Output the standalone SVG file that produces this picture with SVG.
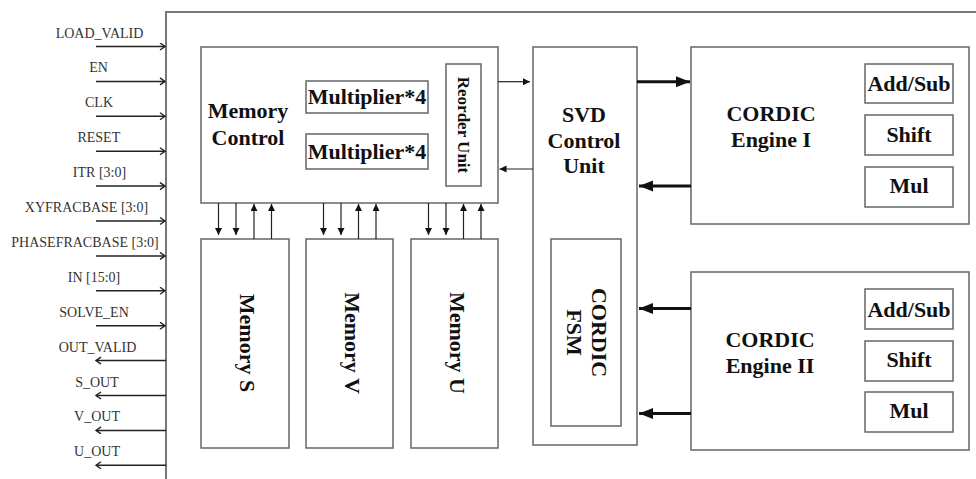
<svg xmlns="http://www.w3.org/2000/svg" width="976" height="479" viewBox="0 0 976 479">
<defs>
<style>
.box{fill:#fff;stroke:#666;stroke-width:1.5}
.io{stroke:#222;stroke-width:1.5;fill:none}
.thin{stroke:#222;stroke-width:1.2;fill:none}
.thick{stroke:#111;stroke-width:3;fill:none}
.lbl{font-family:"Liberation Serif","Times New Roman",serif;font-size:14px;fill:#333;text-anchor:middle}
.b{font-family:"Liberation Serif","Times New Roman",serif;font-size:22px;font-weight:bold;fill:#111;text-anchor:middle}
.b17{font-family:"Liberation Serif","Times New Roman",serif;font-size:17px;font-weight:bold;fill:#111;text-anchor:middle}
</style>
<marker id="open" markerUnits="userSpaceOnUse" markerWidth="10" markerHeight="10" refX="6" refY="4" orient="auto">
<path d="M1,0.5 L6,4 L1,7.5" fill="none" stroke="#222" stroke-width="1.4"/>
</marker>
<marker id="tri" markerUnits="userSpaceOnUse" markerWidth="10" markerHeight="8" refX="7" refY="3.5" orient="auto">
<path d="M0,0 L7,3.5 L0,7 Z" fill="#111"/>
</marker>
<marker id="big" markerUnits="userSpaceOnUse" markerWidth="16" markerHeight="12" refX="14" refY="5.5" orient="auto">
<path d="M0,0 L14,5.5 L0,11 Z" fill="#111"/>
</marker>
</defs>
<rect width="976" height="479" fill="#fff"/>

<g id="frame">
<path d="M166,479 V12 H976" fill="none" stroke="#777" stroke-width="2"/>
</g>

<g id="io-labels">
<text class="lbl" x="99.5" y="37.5">LOAD_VALID</text>
<text class="lbl" x="98.5" y="72.4">EN</text>
<text class="lbl" x="99" y="107.3">CLK</text>
<text class="lbl" x="98.8" y="142.2">RESET</text>
<text class="lbl" x="99.5" y="177.1">ITR [3:0]</text>
<text class="lbl" x="86.5" y="212">XYFRACBASE [3:0]</text>
<text class="lbl" x="85" y="246.9">PHASEFRACBASE [3:0]</text>
<text class="lbl" x="94" y="281.8">IN [15:0]</text>
<text class="lbl" x="94" y="316.7">SOLVE_EN</text>
<text class="lbl" x="97.5" y="351.6">OUT_VALID</text>
<text class="lbl" x="97" y="386.5">S_OUT</text>
<text class="lbl" x="97" y="421.4">V_OUT</text>
<text class="lbl" x="97" y="456.3">U_OUT</text>
</g>

<g id="memory-control">
<rect class="box" x="201" y="47" width="297" height="156"/>
<text class="b" x="248" y="118">Memory</text>
<text class="b" x="248" y="145">Control</text>
</g>
<g id="multiplier-1">
<rect class="box" x="306" y="81" width="122" height="32"/>
<text class="b" x="367" y="104">Multiplier*4</text>
</g>
<g id="multiplier-2">
<rect class="box" x="306" y="134" width="122" height="35"/>
<text class="b" x="367" y="159">Multiplier*4</text>
</g>
<g id="reorder-unit">
<rect class="box" x="446" y="64" width="35" height="122"/>
<text class="b17" transform="translate(463.5,125) rotate(90)" y="6">Reorder Unit</text>
</g>

<g id="memory-s">
<rect class="box" x="201" y="239" width="88" height="209"/>
<text class="b" transform="translate(247,343) rotate(90)" y="7">Memory S</text>
</g>
<g id="memory-v">
<rect class="box" x="306" y="239" width="87" height="209"/>
<text class="b" transform="translate(351.5,343) rotate(90)" y="7">Memory V</text>
</g>
<g id="memory-u">
<rect class="box" x="411" y="239" width="87" height="209"/>
<text class="b" transform="translate(456.5,343) rotate(90)" y="7">Memory U</text>
</g>

<g id="svd-control-unit">
<rect class="box" x="533" y="47" width="104" height="398"/>
<text class="b" x="584" y="122">SVD</text>
<text class="b" x="584" y="148">Control</text>
<text class="b" x="584" y="173">Unit</text>
</g>
<g id="cordic-fsm">
<rect class="box" x="551" y="239" width="70" height="187"/>
<text class="b" transform="translate(586,332.5) rotate(90)" y="-6">CORDIC</text>
<text class="b" transform="translate(586,332.5) rotate(90)" y="19">FSM</text>
</g>

<g id="cordic-engine-1">
<rect class="box" x="691" y="47" width="278" height="177"/>
<text class="b" x="771" y="121">CORDIC</text>
<text class="b" x="771" y="147">Engine I</text>
<rect class="box" x="865" y="64" width="88" height="39"/>
<text class="b" x="909" y="91">Add/Sub</text>
<rect class="box" x="865" y="115" width="88" height="40"/>
<text class="b" x="909" y="142">Shift</text>
<rect class="box" x="865" y="167" width="88" height="40"/>
<text class="b" x="909" y="193">Mul</text>
</g>

<g id="cordic-engine-2">
<rect class="box" x="691" y="272" width="278" height="178"/>
<text class="b" x="770" y="347">CORDIC</text>
<text class="b" x="770" y="373">Engine II</text>
<rect class="box" x="865" y="289" width="88" height="40"/>
<text class="b" x="909" y="317">Add/Sub</text>
<rect class="box" x="865" y="341" width="88" height="40"/>
<text class="b" x="909" y="367">Shift</text>
<rect class="box" x="865" y="392" width="88" height="40"/>
<text class="b" x="909" y="418">Mul</text>
</g>

<g id="connectors">
<!-- inputs -->
<line class="io" x1="96" y1="46.5" x2="165" y2="46.5" marker-end="url(#open)"/>
<line class="io" x1="96" y1="81.4" x2="165" y2="81.4" marker-end="url(#open)"/>
<line class="io" x1="96" y1="116.3" x2="165" y2="116.3" marker-end="url(#open)"/>
<line class="io" x1="96" y1="151.2" x2="165" y2="151.2" marker-end="url(#open)"/>
<line class="io" x1="96" y1="186.1" x2="165" y2="186.1" marker-end="url(#open)"/>
<line class="io" x1="96" y1="221" x2="165" y2="221" marker-end="url(#open)"/>
<line class="io" x1="96" y1="255.9" x2="165" y2="255.9" marker-end="url(#open)"/>
<line class="io" x1="96" y1="290.8" x2="165" y2="290.8" marker-end="url(#open)"/>
<line class="io" x1="96" y1="325.7" x2="165" y2="325.7" marker-end="url(#open)"/>
<!-- outputs -->
<line class="io" x1="166" y1="360.6" x2="96" y2="360.6" marker-end="url(#open)"/>
<line class="io" x1="166" y1="395.5" x2="96" y2="395.5" marker-end="url(#open)"/>
<line class="io" x1="166" y1="430.4" x2="96" y2="430.4" marker-end="url(#open)"/>
<line class="io" x1="166" y1="465.3" x2="96" y2="465.3" marker-end="url(#open)"/>
<!-- memory control <-> memories -->
<line class="thin" x1="218.5" y1="203" x2="218.5" y2="235" marker-end="url(#tri)"/>
<line class="thin" x1="236" y1="203" x2="236" y2="235" marker-end="url(#tri)"/>
<line class="thin" x1="254" y1="239" x2="254" y2="204" marker-end="url(#tri)"/>
<line class="thin" x1="271.5" y1="239" x2="271.5" y2="204" marker-end="url(#tri)"/>
<line class="thin" x1="323.5" y1="203" x2="323.5" y2="235" marker-end="url(#tri)"/>
<line class="thin" x1="341" y1="203" x2="341" y2="235" marker-end="url(#tri)"/>
<line class="thin" x1="358.5" y1="239" x2="358.5" y2="204" marker-end="url(#tri)"/>
<line class="thin" x1="376" y1="239" x2="376" y2="204" marker-end="url(#tri)"/>
<line class="thin" x1="428.5" y1="203" x2="428.5" y2="235" marker-end="url(#tri)"/>
<line class="thin" x1="446" y1="203" x2="446" y2="235" marker-end="url(#tri)"/>
<line class="thin" x1="463.5" y1="239" x2="463.5" y2="204" marker-end="url(#tri)"/>
<line class="thin" x1="481" y1="239" x2="481" y2="204" marker-end="url(#tri)"/>
<!-- memory control <-> SVD -->
<line class="thin" x1="498" y1="81.7" x2="530" y2="81.7" marker-end="url(#tri)"/>
<line class="thin" x1="533" y1="169" x2="499.5" y2="169" marker-end="url(#tri)"/>
<!-- SVD <-> CORDIC -->
<line class="thick" x1="637" y1="81.7" x2="690" y2="81.7" marker-end="url(#big)"/>
<line class="thick" x1="691" y1="186" x2="639" y2="186" marker-end="url(#big)"/>
<line class="thick" x1="691" y1="308.5" x2="639" y2="308.5" marker-end="url(#big)"/>
<line class="thick" x1="691" y1="413.5" x2="639" y2="413.5" marker-end="url(#big)"/>
</g>
</svg>
